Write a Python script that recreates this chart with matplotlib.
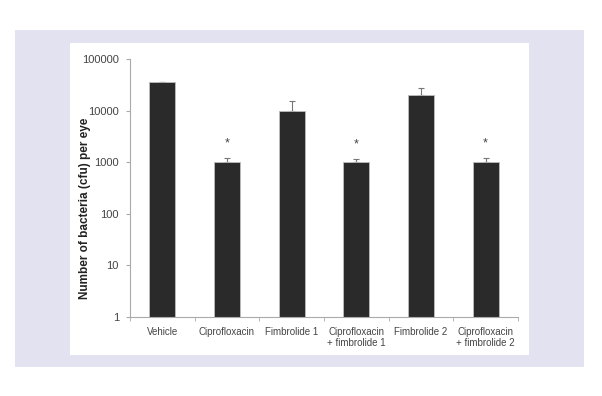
import numpy as np
import matplotlib
matplotlib.use('Agg')
import matplotlib.pyplot as plt
from matplotlib.patches import Rectangle

categories = ["Vehicle", "Ciprofloxacin", "Fimbrolide 1",
              "Ciprofloxacin\n+ fimbrolide 1", "Fimbrolide 2",
              "Ciprofloxacin\n+ fimbrolide 2"]
values = [36000, 1000, 10000, 1000, 20500, 1000]
err_up = [500, 230, 5600, 150, 7000, 230]
significant = [False, True, False, True, False, True]
yticks = [1, 10, 100, 1000, 10000, 100000]

plt.rcParams['font.family'] = ['Liberation Sans', 'DejaVu Sans']

fig = plt.figure(figsize=(6.02, 3.96), dpi=100)
fig.patches.append(Rectangle((15/602, 1 - 367/396), 569/602, 337/396,
                             transform=fig.transFigure, facecolor='#e3e2f0',
                             edgecolor='none', zorder=-2))
fig.patches.append(Rectangle((70/602, 1 - 355/396), 459/602, 312/396,
                             transform=fig.transFigure, facecolor='white',
                             edgecolor='none', zorder=-1))

ax = fig.add_axes([130/602, 1 - 317/396, 388/602, 258/396])
ax.patch.set_alpha(0)
x = np.arange(len(categories))
ax.bar(x, values, width=0.4, color='#2a2a2a', edgecolor='#bdbdbd', linewidth=0.6,
       zorder=2)
ax.errorbar(x, values, yerr=[np.zeros(len(values)), err_up], fmt='none',
            ecolor='#777777', elinewidth=0.8, capsize=2, capthick=0.8, zorder=1)
for xi, v, e, s in zip(x, values, err_up, significant):
    if s:
        ax.text(xi, (v + e) * 1.45, "*", ha='center', va='bottom',
                fontsize=9, color='#444444')

ax.set_yscale('log')
ax.set_ylim(1, 100000)
ax.set_xlim(-0.5, len(categories) - 0.5)
ax.set_yticks(yticks)
ax.set_yticklabels([str(t) for t in yticks])
ax.minorticks_off()
ax.tick_params(axis='y', direction='out', length=3, color='#aaaaaa',
               labelsize=8, labelcolor='#444444', pad=5)
ax.set_xticks(x)
ax.set_xticklabels(categories)
ax.tick_params(axis='x', length=0, labelsize=7, labelcolor='#444444', pad=7)
ax.set_xticks(np.arange(len(categories) + 1) - 0.5, minor=True)
ax.tick_params(axis='x', which='minor', direction='out', length=3, color='#aaaaaa')
for sp in ['top', 'right']:
    ax.spines[sp].set_visible(False)
for sp in ['left', 'bottom']:
    ax.spines[sp].set_color('#aaaaaa')
    ax.spines[sp].set_linewidth(0.8)
ax.set_ylabel("Number of bacteria (cfu) per eye", fontsize=8.5, fontweight='bold',
              color='#222222')
ax.yaxis.set_label_coords(-0.1, 0.42)

fig.savefig("out.png", dpi=100)
